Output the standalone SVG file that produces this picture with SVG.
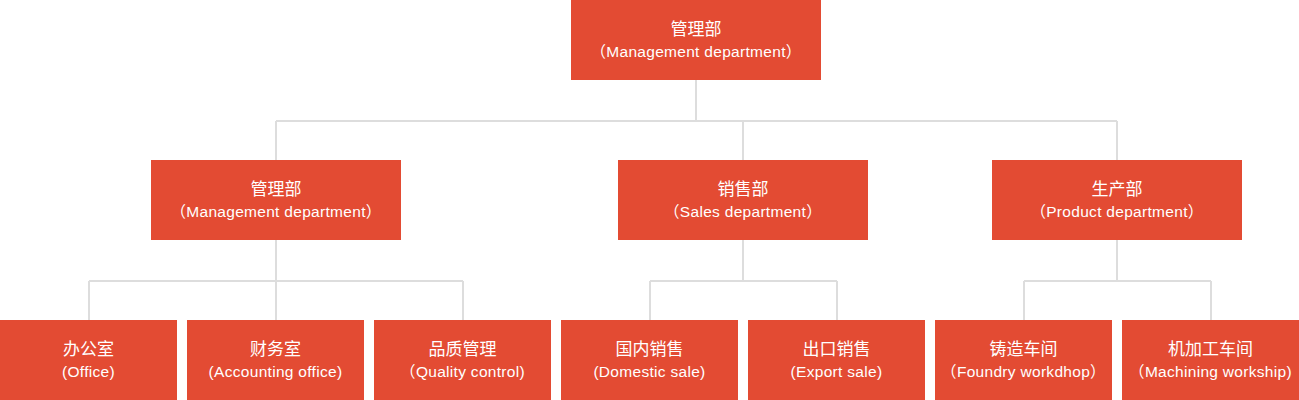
<svg xmlns="http://www.w3.org/2000/svg" width="1299" height="400" viewBox="0 0 1299 400">
<style>
.box{fill:#e34b33}
.cn{font-family:"Liberation Sans","Noto Sans CJK SC",sans-serif;font-size:17px;fill:#fff;text-anchor:middle}
.en{font-family:"Liberation Sans","Noto Sans CJK SC",sans-serif;font-size:15.5px;letter-spacing:0.3px;fill:#fff;text-anchor:middle}
.ln{fill:none;stroke:#dddddd;stroke-width:2}
</style>
<rect width="1299" height="400" fill="#fff"/>
<g id="connectors">
<path class="ln" d="M696 80V121M276 121H1117M276 121V160M743 121V160M1117 121V160"/>
<path class="ln" d="M276 240V281M89 281H463M89 281V320M276 281V320M463 281V320"/>
<path class="ln" d="M743 240V281M650 281H837M650 281V320M837 281V320"/>
<path class="ln" d="M1117 240V281M1024 281H1211M1024 281V320M1211 281V320"/>
</g>
<g id="n-top"><rect class="box" x="571" y="0" width="250" height="80"/><text class="cn" x="696" y="35">管理部</text><text class="en" x="696" y="57">（Management department）</text></g>
<g id="n-mgmt"><rect class="box" x="151" y="160" width="250" height="80"/><text class="cn" x="276" y="195">管理部</text><text class="en" x="276" y="217">（Management department）</text></g>
<g id="n-sales"><rect class="box" x="618" y="160" width="250" height="80"/><text class="cn" x="743" y="195">销售部</text><text class="en" x="743" y="217">（Sales department）</text></g>
<g id="n-prod"><rect class="box" x="992" y="160" width="250" height="80"/><text class="cn" x="1117" y="195">生产部</text><text class="en" x="1117" y="217">（Product department）</text></g>
<g id="n-office"><rect class="box" x="0" y="320" width="177" height="80"/><text class="cn" x="88.5" y="355">办公室</text><text class="en" x="88.5" y="377">(Office)</text></g>
<g id="n-acct"><rect class="box" x="187" y="320" width="177" height="80"/><text class="cn" x="275.5" y="355">财务室</text><text class="en" x="275.5" y="377">(Accounting office)</text></g>
<g id="n-qc"><rect class="box" x="374" y="320" width="177" height="80"/><text class="cn" x="462.5" y="355">品质管理</text><text class="en" x="462.5" y="377">（Quality control)</text></g>
<g id="n-dom"><rect class="box" x="561" y="320" width="177" height="80"/><text class="cn" x="649.5" y="355">国内销售</text><text class="en" x="649.5" y="377">(Domestic sale)</text></g>
<g id="n-exp"><rect class="box" x="748" y="320" width="177" height="80"/><text class="cn" x="836.5" y="355">出口销售</text><text class="en" x="836.5" y="377">(Export sale)</text></g>
<g id="n-foundry"><rect class="box" x="935" y="320" width="177" height="80"/><text class="cn" x="1023.5" y="355">铸造车间</text><text class="en" x="1023.5" y="377">（Foundry workdhop）</text></g>
<g id="n-mach"><rect class="box" x="1122" y="320" width="177" height="80"/><text class="cn" x="1210.5" y="355">机加工车间</text><text class="en" x="1210.5" y="377">（Machining workship)</text></g>
</svg>
